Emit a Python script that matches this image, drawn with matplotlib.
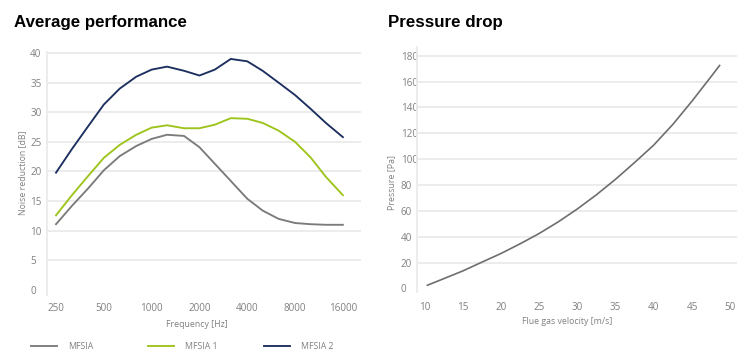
import matplotlib
matplotlib.use('Agg')
import matplotlib.pyplot as plt
from matplotlib.ticker import NullLocator

# Noise reduction per 1/3 octave band
frequencies = [250, 315, 400, 500, 630, 800, 1000, 1250, 1600, 2000,
               2500, 3150, 4000, 5000, 6300, 8000, 10000, 12500, 16000]
mfsia = [11.1, 14.2, 17.2, 20.2, 22.6, 24.3, 25.5, 26.2, 26.0, 24.1,
         21.3, 18.4, 15.4, 13.4, 12.0, 11.3, 11.1, 11.0, 11.0]
mfsia_1 = [12.6, 16.0, 19.3, 22.3, 24.5, 26.2, 27.4, 27.8, 27.3, 27.3,
           27.9, 29.0, 28.9, 28.2, 26.9, 25.0, 22.4, 19.1, 16.0]
mfsia_2 = [19.8, 23.8, 27.7, 31.3, 34.0, 36.0, 37.2, 37.7, 37.0, 36.2,
           37.2, 39.0, 38.6, 37.0, 35.0, 32.9, 30.6, 28.2, 25.8]
freq_ticks = [250, 500, 1000, 2000, 4000, 8000, 16000]
freq_labels = ['250', '500', '1000', '2000', '4000', '8000', '16000']
noise_ticks = [0, 5, 10, 15, 20, 25, 30, 35, 40]

# Pressure drop against flue gas velocity
velocity = [10.4, 12.5, 15, 17.5, 20, 22.5, 25, 27.5, 30, 32.5,
            35, 37.5, 40, 42.5, 45, 47.5, 48.6]
pressure = [2.5, 7.5, 13.5, 20.3, 27.0, 34.5, 42.5, 51.5, 61.5, 72.5,
            84.5, 97.5, 111.0, 127.0, 145.0, 164.0, 172.5]
velocity_ticks = [10, 15, 20, 25, 30, 35, 40, 45, 50]
pressure_ticks = [0, 20, 40, 60, 80, 100, 120, 140, 160, 180]

plt.rcParams['font.family'] = ['Open Sans', 'DejaVu Sans']

TICK_COLOR = '#808080'
GRID_COLOR = '#ebebeb'
LABEL_SIZE = 6.3


def style_axes(ax, ypad, xpad):
    for side in ['top', 'right', 'bottom']:
        ax.spines[side].set_visible(False)
    ax.spines['left'].set_color(GRID_COLOR)
    ax.spines['left'].set_linewidth(1.3)
    ax.grid(axis='y', color=GRID_COLOR, linewidth=1.3)
    ax.set_axisbelow(True)
    # no gridline at zero
    ax.get_ygridlines()[0].set_visible(False)
    ax.tick_params(length=0, labelsize=7.1, labelcolor=TICK_COLOR)
    ax.tick_params(axis='y', pad=ypad)
    ax.tick_params(axis='x', pad=xpad)
    for lbl in ax.get_yticklabels():
        lbl.set_horizontalalignment('left')


fig = plt.figure(figsize=(7.5, 3.64), dpi=100)

# Left chart: average performance
ax1 = fig.add_axes([0.0627, 0.1896, 0.4187, 0.668])
ax1.set_xscale('log', base=2)
ax1.set_xlim(250 * 2 ** -0.188, 250 * 2 ** 6.38)
ax1.set_ylim(-0.85, 40.2)
l1, = ax1.plot(frequencies, mfsia, color='#7b7b7b', lw=1.35, label='MFSIA')
l2, = ax1.plot(frequencies, mfsia_1, color='#9dc41a', lw=1.35, label='MFSIA 1')
l3, = ax1.plot(frequencies, mfsia_2, color='#1c2f5f', lw=1.35, label='MFSIA 2')
ax1.set_xticks(freq_ticks)
ax1.set_xticklabels(freq_labels)
ax1.xaxis.set_minor_locator(NullLocator())
ax1.set_yticks(noise_ticks)
style_axes(ax1, 12.2, 5.8)
ax1.set_xlabel('Frequency [Hz]', fontsize=LABEL_SIZE, color=TICK_COLOR,
               va='center')
ax1.xaxis.set_label_coords(0.478, -0.12)
ax1.set_ylabel('Noise reduction [dB]', fontsize=LABEL_SIZE, color=TICK_COLOR,
               va='center')
ax1.yaxis.set_label_coords(-0.078, 0.503)

# Legend entries, one per column
for line, xpos in zip([l1, l2, l3], [31, 148, 264]):
    fig.legend([line], [line.get_label()], loc='center left',
               bbox_to_anchor=(xpos / 750, 1 - 346.7 / 364), frameon=False,
               fontsize=LABEL_SIZE, labelcolor=TICK_COLOR, handlelength=2.95,
               handletextpad=1.25, borderaxespad=0, borderpad=0)

# Right chart: pressure drop
ax2 = fig.add_axes([0.5564, 0.1986, 0.4259, 0.673])
ax2.set_xlim(9.08, 50.84)
ax2.set_ylim(-2.5, 187)
ax2.plot(velocity, pressure, color='#6e6e6e', lw=1.2)
ax2.set_xticks(velocity_ticks)
ax2.set_yticks(pressure_ticks)
style_axes(ax2, 11.8, 7.2)
ax2.set_xlabel('Flue gas velocity [m/s]', fontsize=LABEL_SIZE,
               color=TICK_COLOR, va='center')
ax2.xaxis.set_label_coords(0.468, -0.12)
ax2.set_ylabel('Pressure [Pa]', fontsize=LABEL_SIZE, color=TICK_COLOR,
               va='center')
ax2.yaxis.set_label_coords(-0.08, 0.446)

# Titles
fig.text(14.3 / 750, 1 - 26.7 / 364, 'Average performance', fontsize=12.2,
         fontweight='bold', family='Liberation Sans', va='baseline')
fig.text(388.3 / 750, 1 - 26.7 / 364, 'Pressure drop', fontsize=12.2,
         fontweight='bold', family='Liberation Sans', va='baseline')

fig.savefig('out.png', dpi=100)
